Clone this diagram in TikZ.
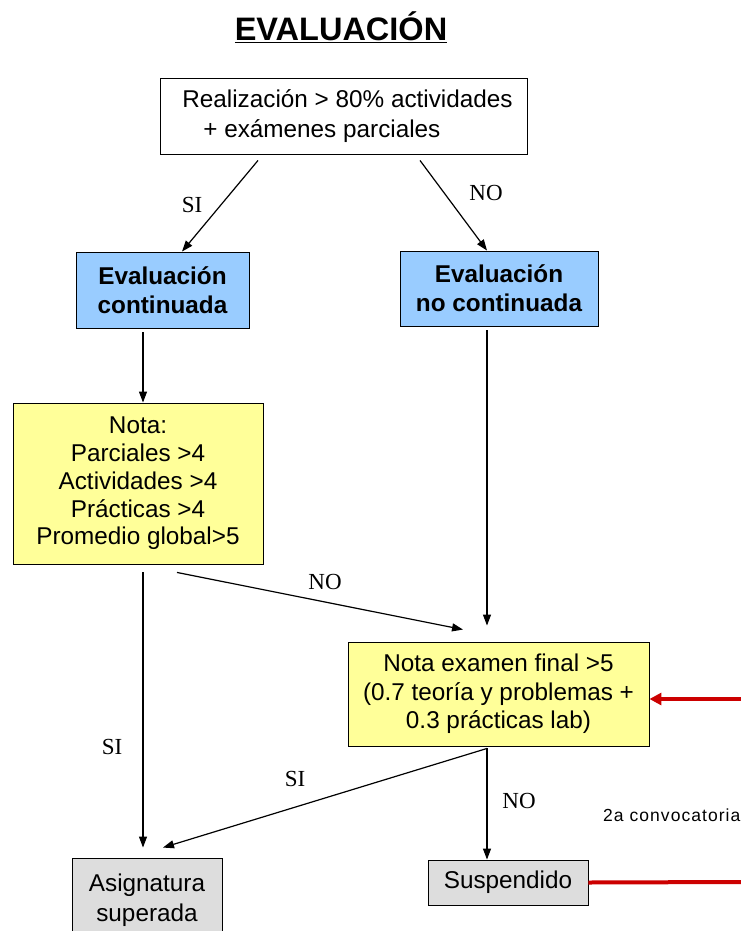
\documentclass[tikz,border=0pt]{standalone}
\usepackage{fontspec}
\setmainfont{Liberation Sans}
\newfontfamily\lblfont{Liberation Serif}
\newfontfamily\convfont[LetterSpace=6]{Liberation Sans}
\usetikzlibrary{arrows.meta,calc}
\definecolor{boxblue}{HTML}{99CCFF}
\definecolor{boxyellow}{HTML}{FFFF99}
\definecolor{boxgray}{HTML}{DDDDDD}
\definecolor{redline}{HTML}{CC0000}
\begin{document}
\begin{tikzpicture}[x=1pt,y=-1pt,
  box/.style={draw=black,line width=0.9pt,inner sep=0pt,align=center,
    font=\fontsize{24.3}{28.5}\selectfont},
  bluebox/.style={box,fill=boxblue,font=\bfseries\fontsize{24.3}{29}\selectfont},
  yellowbox/.style={box,fill=boxyellow},
  graybox/.style={box,fill=boxgray,font=\fontsize{24.3}{30}\selectfont},
  arr/.style={draw=black,line width=1.2pt,-{Triangle[length=11pt,width=8pt]}},
  redarr/.style={draw=redline,line width=4pt},
  lbl/.style={font=\lblfont\fontsize{23}{23}\selectfont,inner sep=0pt}]
\useasboundingbox[fill=white] (0,0) rectangle (741,931);

\node[font=\bfseries\fontsize{32.5}{32.5}\selectfont,inner sep=0pt] (title) at (341,27) {\underline{EVALUACIÓN}};

\node[box,minimum width=367pt,minimum height=76pt,fill=white,
  font=\fontsize{24.3}{30}\selectfont,align=left] (top) at (343.5,116)
  {\hspace*{8pt}Realización > 80\% actividades\\\hspace*{29pt}+ exámenes parciales};

\node[bluebox,minimum width=173pt,minimum height=76pt] (cl) at (162.5,290) {Evaluación\\continuada};
\node[bluebox,minimum width=198pt,minimum height=75pt] (ncl) at (499,288.5) {Evaluación\\no continuada};

\node[yellowbox,minimum width=250pt,minimum height=161pt,font=\fontsize{24.3}{27.8}\selectfont] (yl) at (138,483.5)
  {Nota:\\Parciales >4\\Actividades >4\\Prácticas >4\\Promedio global>5};

\node[yellowbox,minimum width=301pt,minimum height=104pt] (ym) at (498.5,694)
  {Nota examen final >5\\(0.7 teoría y problemas +\\0.3 prácticas lab)};

\node[graybox,minimum width=150pt,minimum height=84pt] (asig) at (147,900) {Asignatura\\superada};
\node[graybox,minimum width=160pt,minimum height=45pt] (susp) at (508,882.5) {Suspendido};

\coordinate (redend) at (741,882);
\coordinate (redstart) at (741,699);

% connectors
\draw[arr] ([xshift=-85.5pt,yshift=-6pt]top.south) -- ([xshift=19.5pt]cl.north);
\node[lbl] (si1) at (192,205) {SI};
\draw[arr] ([xshift=76.5pt,yshift=-6pt]top.south) -- ([xshift=-12pt]ncl.north);
\node[lbl] (no1) at (486,193) {NO};
\draw[arr] ([xshift=-19.5pt,yshift=-4pt]cl.south) -- ([xshift=5pt]yl.north);
\draw[arr] ([xshift=-12pt,yshift=-4pt]ncl.south) -- ([xshift=-11.5pt,yshift=16pt]ym.north);
\draw[arr] ([xshift=39pt,yshift=-8pt]yl.south) -- ([xshift=-35.5pt,yshift=12pt]ym.north);
\node[lbl] (no2) at (325,582) {NO};
\draw[arr] ([xshift=5pt,yshift=-8pt]yl.south) -- ([xshift=-4pt,yshift=10pt]asig.north);
\node[lbl] (si2) at (112,747) {SI};
\draw[arr] ([xshift=-11.5pt,yshift=-2pt]ym.south) -- ([xshift=16pt,yshift=10pt]asig.north);
\node[lbl] (si3) at (295,779) {SI};
\draw[arr] ([xshift=-11.5pt,yshift=-2pt]ym.south) -- ([xshift=-21pt]susp.north);
\node[lbl] (no3) at (519,801) {NO};

\draw[redarr] (susp.east) -- (redend);
\draw[redarr,-{Triangle[length=12pt,width=12pt]}] (redstart) -- ([yshift=-5pt]ym.east);
\node[anchor=west,inner sep=0pt,font=\convfont\fontsize{17.5}{17.5}\selectfont] (conv) at (603,815) {2a convocatoria};
\end{tikzpicture}
\end{document}
